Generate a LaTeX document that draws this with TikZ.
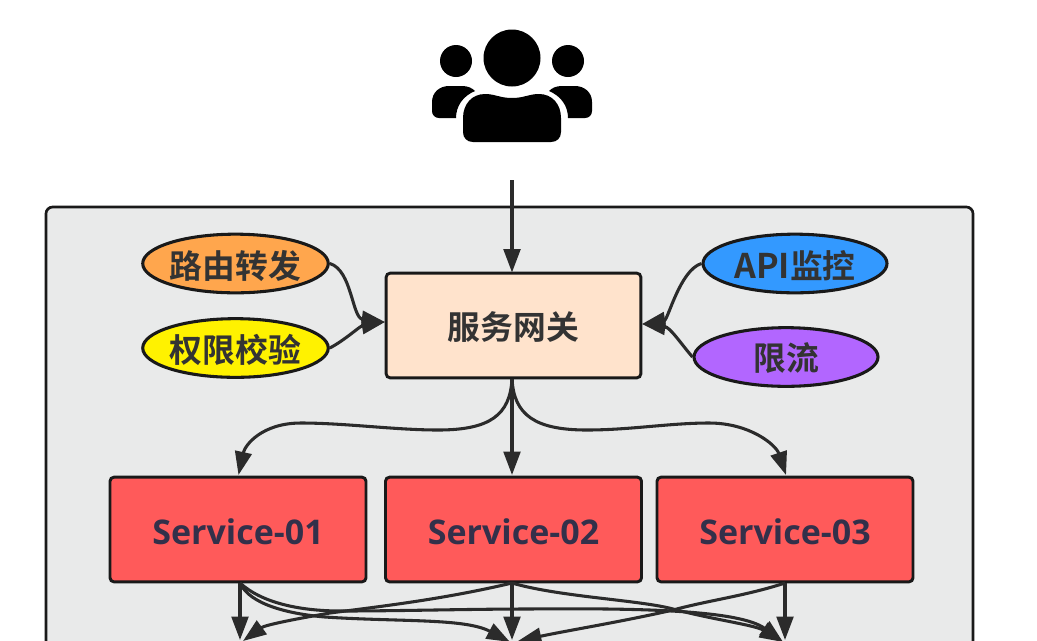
\documentclass[tikz,border=0pt]{standalone}
\usepackage{fontspec}
\setmainfont{Open Sans}
\newfontfamily\cjkbold{Noto Sans CJK SC Bold}
\usetikzlibrary{arrows.meta,shapes.geometric}
\definecolor{ink}{HTML}{2B2B2B}
\definecolor{txt}{HTML}{333333}
\definecolor{panelfill}{HTML}{E9EAEA}
\definecolor{gatefill}{HTML}{FFE3CC}
\definecolor{svcfill}{HTML}{FF5A5A}
\definecolor{svctext}{HTML}{33304A}
\definecolor{orangefill}{HTML}{FFA64D}
\definecolor{bluefill}{HTML}{3399FF}
\definecolor{purplefill}{HTML}{B266FF}
\newcommand{\dropped}[2]{\raisebox{0pt}[\dimexpr\height+#1\relax][\depth]{#2}}
\tikzset{
  x=0.75pt,y=-0.75pt,
  link/.style={draw=ink,line width=2.3pt,-{Triangle[length=17.5pt,width=12.5pt,fill=ink]}},
  pill/.style={ellipse,draw=black!90,line width=2.3pt,minimum width=138pt,minimum height=44pt,inner sep=0pt,text=txt,font=\cjkbold\fontsize{24.6pt}{28pt}\selectfont},
  gatebox/.style={rectangle,rounded corners=3pt,draw=black!90,line width=2.2pt,minimum width=191pt,minimum height=78.5pt,inner sep=0pt,fill=gatefill,text=txt,font=\cjkbold\fontsize{24.6pt}{28pt}\selectfont},
  svcbox/.style={rectangle,rounded corners=3pt,draw=black!90,line width=2.2pt,minimum width=192pt,minimum height=78.5pt,inner sep=0pt,fill=svcfill,text=svctext,font=\fontsize{25.5pt}{28pt}\selectfont\bfseries},
}
\begin{document}
\begin{tikzpicture}
\useasboundingbox (0,0) rectangle (1037,640);
\clip (0,0) rectangle (1037,640);
\fill[white] (0,0) rectangle (1037,640);
% panel
\draw[fill=panelfill,draw=black!90,line width=2pt,rounded corners=5pt] (46,207) rectangle (973,700);
% users icon
\fill[black] (512,58) circle (28.5);
\fill[black] (456,61) circle (16);
\fill[black] (568,61) circle (16);
\fill[black] (473,142) .. controls (467,142) and (463,138) .. (463,132) -- (463,118) .. controls (463,104) and (472,94) .. (485,94) .. controls (495,94) and (500,98) .. (512,98) .. controls (524,98) and (529,94) .. (539,94) .. controls (552,94) and (561,104) .. (561,118) -- (561,132) .. controls (561,138) and (557,142) .. (551,142) -- cycle;
\fill[black] (439,118) .. controls (435,118) and (432,115) .. (432,111) -- (432,102) .. controls (432,92) and (440,86) .. (449,86) -- (462,86) .. controls (468,86) and (472,88) .. (475,91) .. controls (463,96) and (456,106) .. (456,118) -- cycle;
\fill[black] (585,118) .. controls (589,118) and (592,115) .. (592,111) -- (592,102) .. controls (592,92) and (584,86) .. (575,86) -- (562,86) .. controls (556,86) and (552,88) .. (549,91) .. controls (561,96) and (568,106) .. (568,118) -- cycle;
% nodes
\node[gatebox] (gw) at (513.5,325.5) {\dropped{3pt}{服务网关}};
\node[pill,fill=orangefill] (route) at (235.5,263.5) {\dropped{3pt}{路由转发}};
\node[pill,fill=yellow] (auth) at (235.5,348) {\dropped{3pt}{权限校验}};
\node[pill,fill=bluefill] (api) at (795,263.5) {\dropped{3pt}{{\fontsize{25.5pt}{28pt}\selectfont API}监控}};
\node[pill,fill=purplefill] (limit) at (786,357) {\dropped{2pt}{限流}};
\node[svcbox] (s1) at (238,529.5) {\dropped{3pt}{Service-01}};
\node[svcbox] (s2) at (513.5,529.5) {\dropped{3pt}{Service-02}};
\node[svcbox] (s3) at (785,529.5) {\dropped{3pt}{Service-03}};
\coordinate (entry) at (512,180);
\coordinate (gwtop) at (512,272.5);
\coordinate (gwbot) at (512,379);
\coordinate (gwl) at (385,322);
\coordinate (gwr) at (642,324);
\coordinate (s1t) at (238.5,475);
\coordinate (s2t) at (512,475);
\coordinate (s3t) at (786,475);
\coordinate (s1b) at (240,583);
\coordinate (s2b) at (512,583);
\coordinate (s3b) at (785,583);
\coordinate (t1) at (240,640);
\coordinate (t2) at (512,640);
\coordinate (t3) at (785,640);
\coordinate (t1a) at (243,641);
\coordinate (t2a) at (510,642);
\coordinate (t2b) at (518,641);
\coordinate (t3a) at (783,642);
% connectors
\draw[link] (entry) -- (gwtop);
\draw[link] (route.east) .. controls (352,270) and (352,318) .. (gwl);
\draw[link] (auth.east) .. controls (345,340) and (360,326) .. (gwl);
\draw[link] (api.west) .. controls (680,270) and (668,320) .. (gwr);
\draw[link] (limit.west) .. controls (682,345) and (670,327) .. (gwr);
\draw[link] (gwbot) -- (s2t);
\draw[link] (gwbot) .. controls (510,415) and (490,430) .. (438,430) .. controls (395,430) and (345,423) .. (301,423) .. controls (262,423) and (245,445) .. (s1t);
\draw[link] (gwbot) .. controls (514,415) and (535,430) .. (587,430) .. controls (630,430) and (670,423) .. (709,423) .. controls (750,423) and (776,445) .. (s3t);
\draw[link] (s1b) -- (t1);
\draw[link] (s2b) -- (t2);
\draw[link] (s3b) -- (t3);
\draw[link] (s1b) .. controls (250,605) and (290,614) .. (325,617) .. controls (400,622) and (465,618) .. (t2a);
\draw[link] (s1b) .. controls (262,603) and (300,611) .. (341,611) .. controls (400,611) and (470,609) .. (528,609) .. controls (640,608) and (740,610) .. (t3a);
\draw[link] (s2b) .. controls (440,600) and (375,607) .. (330,613) .. controls (295,619) and (265,625) .. (t1a);
\draw[link] (s2b) .. controls (560,597) and (640,600) .. (673,609) .. controls (715,620) and (755,625) .. (t3a);
\draw[link] (s3b) .. controls (745,596) and (710,600) .. (673,610) .. controls (620,622) and (570,630) .. (t2b);
\end{tikzpicture}
\end{document}
